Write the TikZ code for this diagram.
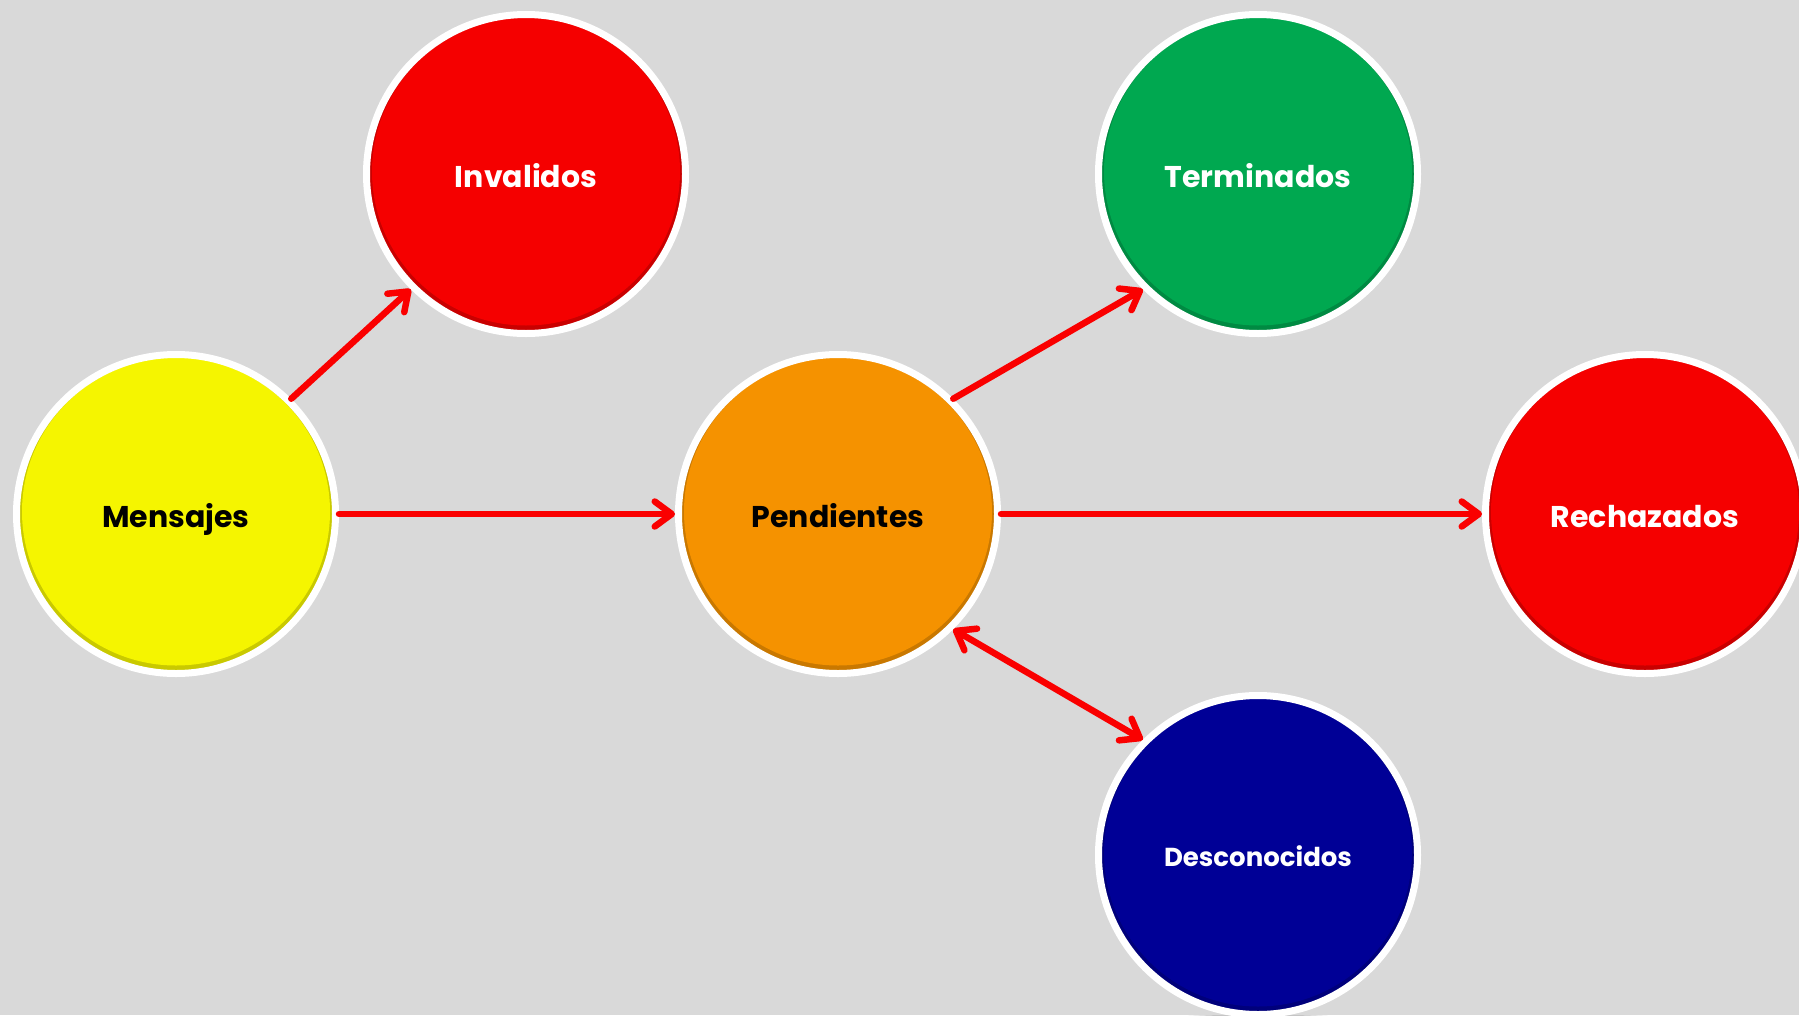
\documentclass[tikz,border=0pt]{standalone}
\usepackage{fontspec}
\setmainfont{Poppins}
\usetikzlibrary{arrows.meta,backgrounds}
\definecolor{bg}{RGB}{217,217,217}
\definecolor{cyellow}{RGB}{245,245,0}
\definecolor{cred}{RGB}{245,0,0}
\definecolor{corange}{RGB}{245,146,0}
\definecolor{cgreen}{RGB}{0,168,80}
\definecolor{cblue}{RGB}{0,0,150}
\definecolor{arrowred}{RGB}{250,0,0}
\newcommand\mysoftshadow[1]{%
  \foreach \r/\o in {172/0.03,170/0.04,168/0.05,166/0.06,164/0.07}{%
    \fill[black,opacity=\o] ([yshift=-3pt]#1.center) circle (\r pt);}}
\begin{document}
\begin{tikzpicture}[x=1pt,y=-1pt,
  state/.style={circle, minimum size=319pt, inner sep=0pt, line width=7pt,
    draw=white, fill=#1, text height=27pt, text depth=0pt,
    font=\bfseries\fontsize{30}{36}\selectfont,
    path picture={\fill[#1!82!black] (path picture bounding box.center) circle (157pt);
                  \fill[#1] ([yshift=2.5pt]path picture bounding box.center) circle (154pt);}},
  barb/.tip={Straight Barb[length=17pt,width=25pt,line cap=round,line join=round]},
  link/.style={draw=arrowred, line width=6.5pt, line cap=round, -barb},
]
\useasboundingbox (0,0) rectangle (1799,1015);
\fill[bg] (0,0) rectangle (1799,1015);

\node[state=cyellow, text=black] (m) at (176,514) {Mensajes};
\node[state=cred, text=white] (i) at (526,174) {Invalidos};
\node[state=corange, text=black] (p) at (838,514) {Pendientes};
\node[state=cgreen, text=white] (t) at (1258,174) {Terminados};
\node[state=cred, text=white] (r) at (1645,514) {Rechazados};
\node[state=cblue, text=white, text height=23pt, font=\bfseries\fontsize{26}{32}\selectfont] (d) at (1258,855) {Desconocidos};

\begin{scope}[on background layer]
  \mysoftshadow{m}\mysoftshadow{i}\mysoftshadow{p}
  \mysoftshadow{t}\mysoftshadow{r}\mysoftshadow{d}
\end{scope}

\draw[link] (m.45) -- (i.225);
\draw[link] (m.east) -- (p.west);
\draw[link] (p.45) -- (t.225);
\draw[link] (p.east) -- (r.west);
\draw[link, barb-barb] (p.-45) -- (d.135);
\end{tikzpicture}
\end{document}
